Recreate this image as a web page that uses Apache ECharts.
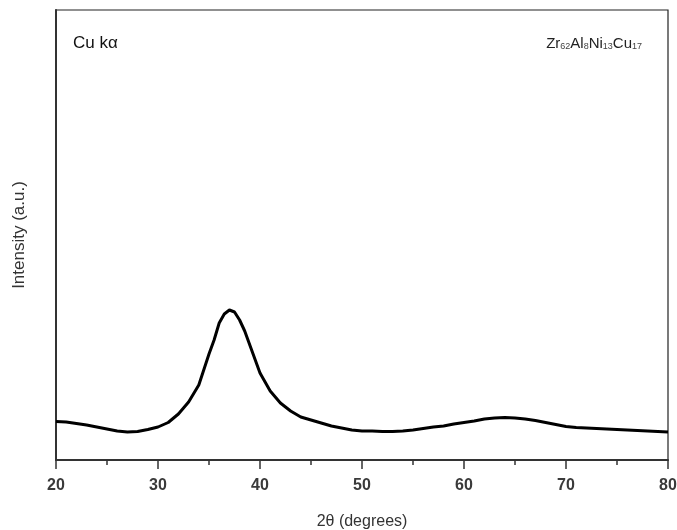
<!DOCTYPE html>
<html>
<head>
<meta charset="utf-8">
<script src="https://cdn.jsdelivr.net/npm/echarts@6/dist/echarts.min.js"></script>
<style>html,body{margin:0;padding:0;background:#fff;}#c{width:677px;height:530px;}</style>
</head>
<body>
<div id="c"></div>
<script>
// 2θ (degrees)
var twoTheta = [20,21,22,23,24,25,26,27,28,29,30,31,32,33,34,35,35.5,36,36.5,37,37.5,38,38.5,39,40,41,42,43,44,45,46,47,48,49,50,51,52,53,54,55,56,57,58,59,60,61,62,63,64,65,66,67,68,69,70,71,72,73,74,75,76,77,78,79,80];
// Intensity (a.u.)
var intensity = [38.5,38,36.5,35,33,31,29,28,28.5,30.5,33,37.5,46,58,75,106,120,137,146,150,148,140,129,115,87,69,57,49,43,40,37,34,32,30,29,29,28.5,28.5,29,30,31.5,33,34,36,37.5,39,41,42,42.5,42,41,39.5,37.5,35.5,33.5,32.5,32,31.5,31,30.5,30,29.5,29,28.5,28];
var xTicks = {min: 20, max: 80, step: 10};

var data = twoTheta.map(function(x, i){ return [x, intensity[i]]; });
var chart = echarts.init(document.getElementById('c'), null, {renderer: 'canvas'});
var font = '"Liberation Sans", Arial, sans-serif';
chart.setOption({
  animation: false,
  backgroundColor: '#fff',
  grid: {left: 56, right: 9, top: 10, bottom: 70, show: true, borderColor: '#222', borderWidth: 1.2,
         containLabel: false, outerBoundsMode: 'none'},
  xAxis: {
    type: 'value', min: xTicks.min, max: xTicks.max, interval: xTicks.step,
    name: '2θ (degrees)', nameLocation: 'middle', nameGap: 54,
    nameTextStyle: {fontFamily: font, fontSize: 16, color: '#333'},
    axisLine: {lineStyle: {color: '#333', width: 2}},
    axisTick: {inside: false, length: 9, lineStyle: {color: '#333', width: 1.5}},
    minorTick: {show: true, splitNumber: 2, length: 5, lineStyle: {color: '#333', width: 1.5}},
    axisLabel: {fontFamily: font, fontSize: 16, fontWeight: 'bold', color: '#3a3a3a', margin: 18},
    splitLine: {show: false}
  },
  yAxis: {
    type: 'value', min: 0, max: 450,
    name: 'Intensity (a.u.)', nameLocation: 'middle', nameGap: 28,
    nameTextStyle: {fontFamily: font, fontSize: 17, color: '#333'},
    axisLine: {show: true, lineStyle: {color: '#333', width: 2}},
    axisTick: {show: false}, axisLabel: {show: false}, splitLine: {show: false}
  },
  graphic: [
    {type: 'text', left: 73, top: 35, style: {text: 'Cu kα', font: '17px "Liberation Sans", Arial, sans-serif', fill: '#111'}},
    {type: 'text', right: 35, top: 36, style: {
      text: '{m|Zr}{s|62}{m|Al}{s|8}{m|Ni}{s|13}{m|Cu}{s|17}',
      rich: {
        m: {fontFamily: font, fontSize: 15, fill: '#222', verticalAlign: 'bottom', lineHeight: 18},
        s: {fontFamily: font, fontSize: 9, fill: '#444', verticalAlign: 'bottom', lineHeight: 14}
      }
    }}
  ],
  series: [{
    type: 'line', data: data, showSymbol: false, smooth: false,
    lineStyle: {color: '#000', width: 3}
  }]
});
</script>
</body>
</html>
